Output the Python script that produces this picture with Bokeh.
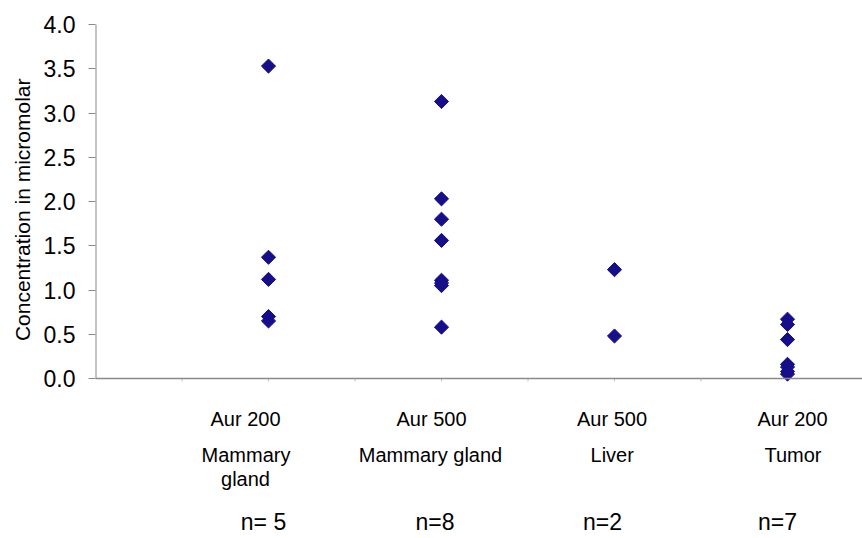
import math
from bokeh.plotting import figure
from bokeh.models import Range1d, FixedTicker, Span, ColumnDataSource, Title, CustomJSTickFormatter
from bokeh.core.properties import value
from bokeh.embed import file_html
from bokeh.resources import INLINE

# ---- data ----
group_x = [2, 4, 6, 8]
aur200_mammary = [3.53, 1.37, 1.12, 0.70, 0.65]
aur500_mammary = [3.13, 2.03, 1.80, 1.56, 1.11, 1.08, 1.05, 0.58]
aur500_liver = [1.23, 0.48]
aur200_tumor = [0.67, 0.61, 0.44, 0.16, 0.13, 0.08, 0.05]
series = [aur200_mammary, aur500_mammary, aur500_liver, aur200_tumor]

label_line1 = ["Aur 200", "Aur 500", "Aur 500", "Aur 200"]
label_line2 = ["Mammary", "Mammary gland", "Liver", "Tumor"]
label_line3 = ["gland", "", "", ""]
n_labels = ["n= 5", "n=8", "n=2", "n=7"]
y_ticks = [0.0, 0.5, 1.0, 1.5, 2.0, 2.5, 3.0, 3.5, 4.0]
x_minor_ticks = [1, 2, 3, 4, 5, 6, 7, 8]
y_title = "Concentration in micromolar"

# ---- layout ----
W, H = 862, 538
LEFT = 95
PX_X = 86.5           # pixels per x unit
PX_Y = 88.5           # pixels per y unit
ZERO_Y = 378          # pixel row of y = 0
FONT = "Liberation Sans"

def ydata(px):
    return (ZERO_Y - px) / PX_Y

def xdata(px):
    return (px - LEFT) / PX_X

p = figure(width=W, height=H, output_backend="svg", toolbar_location=None,
           x_axis_location=None, title=None,
           min_border_left=LEFT, min_border_right=0, min_border_top=0, min_border_bottom=0)
p.x_range = Range1d(0, xdata(W))
p.y_range = Range1d(ydata(H), ydata(0))
p.grid.visible = False
p.outline_line_color = None
p.background_fill_color = "white"
p.border_fill_color = "white"

ax = p.yaxis[0]
ax.ticker = FixedTicker(ticks=y_ticks)
ax.formatter = CustomJSTickFormatter(code="return tick.toFixed(1);")
ax.axis_line_color = None
ax.major_tick_out = 7
ax.major_tick_in = 0
ax.minor_tick_line_color = None
ax.major_tick_line_color = "#8a8a8a"
ax.major_label_standoff = 13
ax.major_label_text_font = FONT
ax.major_label_text_font_size = "23px"
ax.major_label_text_color = "black"

p.add_layout(Title(text=y_title, align="right", offset=78, vertical_align="top",
                   text_font=FONT, text_font_size="21px", text_font_style="normal",
                   text_color="black", standoff=10), "left")

# axis lines
p.segment(x0=[0], y0=[0], x1=[0], y1=[y_ticks[-1]], line_color="#8a8a8a", line_width=2)
p.add_layout(Span(location=0, dimension="width", line_color="#8a8a8a", line_width=1.5))
p.segment(x0=x_minor_ticks, y0=[0] * len(x_minor_ticks), x1=x_minor_ticks,
          y1=[-3 / PX_Y] * len(x_minor_ticks), line_color="#c0c0c0", line_width=1)

# points
for gx, vals in zip(group_x, series):
    src = ColumnDataSource(dict(x=[gx] * len(vals), y=vals))
    p.scatter("x", "y", source=src, marker="square", size=10, angle=math.pi / 4,
              fill_color="#170f89", line_color="#170f89", line_width=1)

# category labels
def row(texts, offsets, center_px, size):
    src = ColumnDataSource(dict(x=group_x, y=[ydata(center_px)] * len(group_x),
                                t=texts, dx=offsets))
    p.text("x", "y", text="t", x_offset="dx", source=src, text_align="center",
           text_baseline="middle", text_font=value(FONT), text_font_size=size,
           text_color="black")

row(label_line1, [-23, -10, -2.5, 5], 418, "20px")
row(label_line2, [-22.5, -11, -2.3, 5.5], 454, "20px")
row(label_line3, [-23, 0, 0, 0], 478, "20px")
row(n_labels, [-5, -6.5, -12, -10], 521, "23px")

open("out.html", "w").write(file_html(p, INLINE))
